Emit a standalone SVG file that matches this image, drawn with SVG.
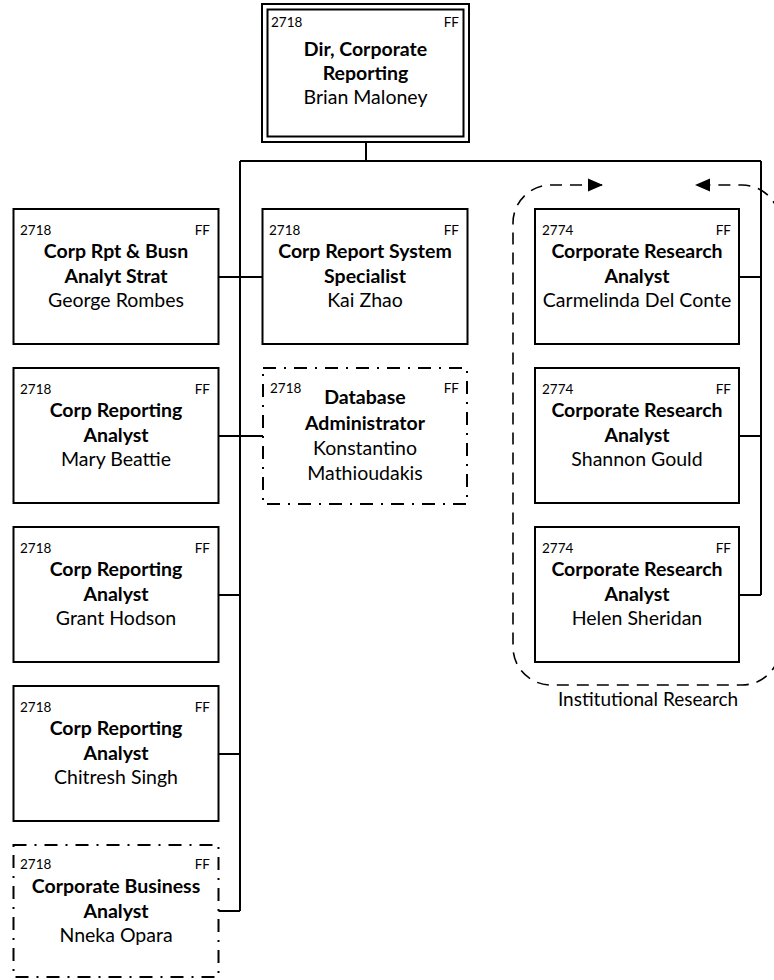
<svg xmlns="http://www.w3.org/2000/svg" width="774" height="980" viewBox="0 0 774 980">
<style>
.box{fill:#fff;stroke:#000;stroke-width:2}
.dd{fill:#fff;stroke:#000;stroke-width:2;stroke-dasharray:13 8 2 8}
.code{font-family:Lato,"Liberation Sans",sans-serif;font-size:13.5px;fill:#000}
.t{font-family:Lato,"Liberation Sans",sans-serif;font-size:19.5px;font-weight:bold;fill:#000;text-anchor:middle}
.n{font-family:Lato,"Liberation Sans",sans-serif;font-size:19.5px;fill:#000;text-anchor:middle}
.r{text-anchor:end}
.con{fill:none;stroke:#000;stroke-width:2}
.grp{fill:none;stroke:#000;stroke-width:1.6;stroke-dasharray:12 8}
.lbl{font-family:Lato,"Liberation Sans",sans-serif;font-size:19px;fill:#000;text-anchor:middle}
</style>
<g id="connectors">
<path class="con" d="M366 142V161M240 161H761M240 161V911M218 277H262M218 436H263M218 595H240M218 754H240M218 911H240M761 161V595M739 277H761M739 436H761M739 595H761"/>
</g>
<g id="group-institutional-research">
<path class="grp" d="M602 185H551A38 38 0 0 0 513 223V647A38 38 0 0 0 551 685H742A38 38 0 0 0 780 647V223A38 38 0 0 0 742 185H696"/>
<polygon points="588,178.5 603,185 588,191.5" fill="#000"/>
<polygon points="710,178.5 695,185 710,191.5" fill="#000"/>
<text class="lbl" x="648" y="706">Institutional Research</text>
</g>
<g id="dir">
<rect class="box" x="262" y="4" width="207" height="138"/>
<rect class="box" x="267.5" y="9.5" width="196" height="127"/>
<text class="code" x="271" y="27">2718</text><text class="code r" x="459" y="27">FF</text>
<text class="t" x="365.5" y="56">Dir, Corporate</text>
<text class="t" x="365.5" y="80">Reporting</text>
<text class="n" x="365.5" y="104">Brian Maloney</text>
</g>
<g id="rombes">
<rect class="box" x="13.5" y="209" width="205" height="135"/>
<text class="code" x="20" y="235">2718</text><text class="code r" x="210" y="235">FF</text>
<text class="t" x="116" y="258">Corp Rpt &amp; Busn</text>
<text class="t" x="116" y="282.5">Analyt Strat</text>
<text class="n" x="116" y="307">George Rombes</text>
</g>
<g id="beattie">
<rect class="box" x="13.5" y="368" width="205" height="135"/>
<text class="code" x="20" y="394">2718</text><text class="code r" x="210" y="394">FF</text>
<text class="t" x="116" y="417">Corp Reporting</text>
<text class="t" x="116" y="441.5">Analyst</text>
<text class="n" x="116" y="466">Mary Beattie</text>
</g>
<g id="hodson">
<rect class="box" x="13.5" y="527" width="205" height="135"/>
<text class="code" x="20" y="553">2718</text><text class="code r" x="210" y="553">FF</text>
<text class="t" x="116" y="576">Corp Reporting</text>
<text class="t" x="116" y="600.5">Analyst</text>
<text class="n" x="116" y="625">Grant Hodson</text>
</g>
<g id="singh">
<rect class="box" x="13.5" y="686" width="205" height="135"/>
<text class="code" x="20" y="712">2718</text><text class="code r" x="210" y="712">FF</text>
<text class="t" x="116" y="735">Corp Reporting</text>
<text class="t" x="116" y="759.5">Analyst</text>
<text class="n" x="116" y="784">Chitresh Singh</text>
</g>
<g id="opara">
<rect class="dd" x="13.5" y="845" width="205" height="132"/>
<text class="code" x="20" y="869">2718</text><text class="code r" x="210" y="869">FF</text>
<text class="t" x="116" y="893">Corporate Business</text>
<text class="t" x="116" y="917.5">Analyst</text>
<text class="n" x="116" y="942">Nneka Opara</text>
</g>
<g id="zhao">
<rect class="box" x="262.5" y="209" width="205" height="135"/>
<text class="code" x="269" y="235">2718</text><text class="code r" x="459" y="235">FF</text>
<text class="t" x="365" y="258">Corp Report System</text>
<text class="t" x="365" y="282.5">Specialist</text>
<text class="n" x="365" y="307">Kai Zhao</text>
</g>
<g id="mathioudakis">
<rect class="dd" x="263" y="368" width="204" height="136"/>
<text class="code" x="270" y="393">2718</text><text class="code r" x="459" y="393">FF</text>
<text class="t" x="365" y="404">Database</text>
<text class="t" x="365" y="429.5">Administrator</text>
<text class="n" x="365" y="455">Konstantino</text>
<text class="n" x="365" y="480">Mathioudakis</text>
</g>
<g id="delconte">
<rect class="box" x="535" y="209" width="204" height="135"/>
<text class="code" x="542" y="235">2774</text><text class="code r" x="731" y="235">FF</text>
<text class="t" x="637" y="258">Corporate Research</text>
<text class="t" x="637" y="282.5">Analyst</text>
<text class="n" x="637" y="307">Carmelinda Del Conte</text>
</g>
<g id="gould">
<rect class="box" x="535" y="368" width="204" height="135"/>
<text class="code" x="542" y="394">2774</text><text class="code r" x="731" y="394">FF</text>
<text class="t" x="637" y="417">Corporate Research</text>
<text class="t" x="637" y="441.5">Analyst</text>
<text class="n" x="637" y="466">Shannon Gould</text>
</g>
<g id="sheridan">
<rect class="box" x="535" y="527" width="204" height="135"/>
<text class="code" x="542" y="553">2774</text><text class="code r" x="731" y="553">FF</text>
<text class="t" x="637" y="576">Corporate Research</text>
<text class="t" x="637" y="600.5">Analyst</text>
<text class="n" x="637" y="625">Helen Sheridan</text>
</g>
</svg>
